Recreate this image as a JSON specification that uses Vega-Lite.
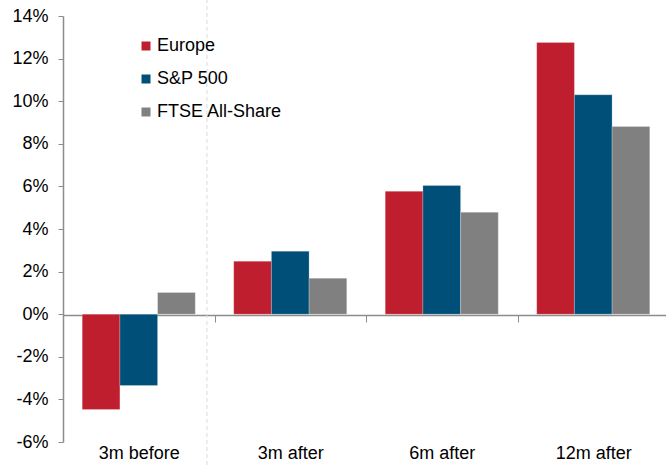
{
  "$schema": "https://vega.github.io/schema/vega-lite/v6.json",
  "width": 606,
  "height": 426,
  "autosize": {"type": "none"},
  "padding": {"left": 63, "top": 16, "right": 0, "bottom": 34},
  "background": "white",
  "config": {
    "view": {"stroke": null},
    "font": "Liberation Sans",
    "axis": {"labelFont": "Liberation Sans", "labelFontSize": 18, "labelColor": "#000000", "domainColor": "#8C8C8C", "tickColor": "#8C8C8C", "grid": false, "title": null}
  },
  "datasets": {
    "bars": [
      {"period": "3m before", "index": "Europe", "value": -4.48},
      {"period": "3m before", "index": "S&P 500", "value": -3.35},
      {"period": "3m before", "index": "FTSE All-Share", "value": 1.02},
      {"period": "3m after", "index": "Europe", "value": 2.49},
      {"period": "3m after", "index": "S&P 500", "value": 2.96},
      {"period": "3m after", "index": "FTSE All-Share", "value": 1.69},
      {"period": "6m after", "index": "Europe", "value": 5.77},
      {"period": "6m after", "index": "S&P 500", "value": 6.04},
      {"period": "6m after", "index": "FTSE All-Share", "value": 4.79},
      {"period": "12m after", "index": "Europe", "value": 12.76},
      {"period": "12m after", "index": "S&P 500", "value": 10.3},
      {"period": "12m after", "index": "FTSE All-Share", "value": 8.81}
    ],
    "divider": [{"period": "3m before"}]
  },
  "layer": [
    {
      "data": {"name": "divider"},
      "mark": {"type": "rule", "color": "#DADADA", "strokeDash": [4, 3], "strokeWidth": 1},
      "encoding": {
        "x": {"field": "period", "type": "nominal", "bandPosition": 0.95, "sort": ["3m before", "3m after", "6m after", "12m after"]},
        "y": {"datum": 14.8, "type": "quantitative"},
        "y2": {"datum": -7.2}
      }
    },
    {
      "data": {"name": "bars"},
      "mark": {"type": "bar", "stroke": "#FFFFFF", "strokeWidth": 0.4, "strokeOpacity": 0.6},
      "encoding": {
        "x": {
          "field": "period",
          "type": "nominal",
          "sort": ["3m before", "3m after", "6m after", "12m after"],
          "scale": {"paddingInner": 0, "paddingOuter": 0},
          "axis": {"orient": "bottom", "offset": -127, "labelAngle": 0, "labelAlign": "center", "tickSize": 7, "tickBand": "extent", "labelPadding": 131, "domainWidth": 1.5}
        },
        "xOffset": {
          "field": "index",
          "type": "nominal",
          "sort": ["Europe", "S&P 500", "FTSE All-Share"],
          "scale": {"paddingInner": 0, "paddingOuter": 0.51}
        },
        "y": {
          "field": "value",
          "type": "quantitative",
          "scale": {"domain": [-6, 14], "nice": false, "zero": false},
          "axis": {"values": [-6, -4, -2, 0, 2, 4, 6, 8, 10, 12, 14], "labelExpr": "datum.value + '%'", "tickSize": 5, "labelPadding": 10, "domainWidth": 1.5}
        },
        "color": {
          "field": "index",
          "type": "nominal",
          "sort": ["Europe", "S&P 500", "FTSE All-Share"],
          "scale": {"domain": ["Europe", "S&P 500", "FTSE All-Share"], "range": ["#BE1E2D", "#004F79", "#808080"]},
          "legend": {
            "title": null,
            "orient": "none",
            "legendX": 74,
            "legendY": 21,
            "symbolType": "square",
            "symbolSize": 81,
            "symbolStrokeWidth": 0,
            "labelFontSize": 18,
            "labelColor": "#000000",
            "labelOffset": 2,
            "rowPadding": 15
          }
        }
      }
    }
  ]
}
